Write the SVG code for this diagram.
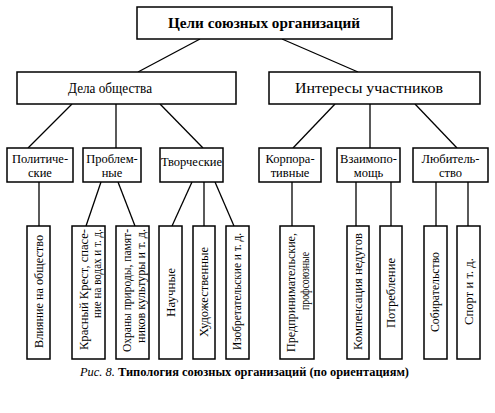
<svg xmlns="http://www.w3.org/2000/svg" width="495" height="413" viewBox="0 0 495 413">
<style>
rect{fill:#fff;stroke:#000;stroke-width:1.5}
line{stroke:#000;stroke-width:1.3}
text{font-family:"Liberation Serif","Times New Roman",serif;fill:#000}
.t0{font-size:15.5px;font-weight:bold}
.t1{font-size:14.5px}
.t2{font-size:12.5px;text-anchor:middle}
.v{font-size:12.5px}
.cap{font-size:12.4px;font-weight:bold}
</style>
<rect width="495" height="413" style="fill:#fff;stroke:none"/>
<g id="connectors">
<line x1="200" y1="39" x2="138" y2="72"/>
<line x1="282" y1="39" x2="358" y2="72"/>
<line x1="72" y1="104" x2="28" y2="148"/>
<line x1="116" y1="104" x2="116" y2="148"/>
<line x1="160" y1="104" x2="203" y2="148"/>
<line x1="335" y1="104" x2="293" y2="148"/>
<line x1="370" y1="104" x2="370" y2="148"/>
<line x1="415" y1="104" x2="457" y2="148"/>
<line x1="39" y1="182" x2="39" y2="226"/>
<line x1="101" y1="182" x2="86" y2="226"/>
<line x1="118" y1="182" x2="135" y2="226"/>
<line x1="192" y1="182" x2="172" y2="226"/>
<line x1="204" y1="182" x2="204" y2="226"/>
<line x1="215" y1="182" x2="234" y2="226"/>
<line x1="292" y1="182" x2="292" y2="226"/>
<line x1="356" y1="182" x2="356" y2="226"/>
<line x1="391" y1="182" x2="391" y2="226"/>
<line x1="436" y1="182" x2="436" y2="226"/>
<line x1="468" y1="182" x2="468" y2="226"/>
</g>
<g id="root"><rect x="137" y="7" width="255" height="32"/><text class="t0" x="168" y="28" textLength="192" lengthAdjust="spacingAndGlyphs">Цели союзных организаций</text></g>
<g id="dela"><rect x="17" y="72" width="219" height="32"/><text class="t1" x="68" y="93" textLength="84" lengthAdjust="spacingAndGlyphs">Дела общества</text></g>
<g id="interesy"><rect x="269" y="72" width="211" height="32"/><text class="t1" x="295" y="93" textLength="148" lengthAdjust="spacingAndGlyphs">Интересы участников</text></g>
<g id="polit"><rect x="7" y="148" width="66" height="34"/><text class="t2" x="40" y="163">Политиче-</text><text class="t2" x="40" y="177">ские</text></g>
<g id="problem"><rect x="83" y="148" width="58" height="34"/><text class="t2" x="112" y="163">Проблем-</text><text class="t2" x="112" y="177">ные</text></g>
<g id="tvorch"><rect x="160" y="148" width="63" height="34"/><text class="t2" x="191.5" y="166">Творческие</text></g>
<g id="korp"><rect x="259" y="148" width="62" height="34"/><text class="t2" x="290" y="163">Корпора-</text><text class="t2" x="290" y="177">тивные</text></g>
<g id="vzaim"><rect x="337" y="148" width="63" height="34"/><text class="t2" x="368.5" y="163">Взаимопо-</text><text class="t2" x="368.5" y="177">мощь</text></g>
<g id="lub"><rect x="413" y="148" width="75" height="34"/><text class="t2" x="450.5" y="163">Любитель-</text><text class="t2" x="450.5" y="177">ство</text></g>
<g id="vliyanie"><rect x="27" y="226" width="23" height="133"/><text class="v" transform="translate(43,348) rotate(-90)" textLength="113" lengthAdjust="spacingAndGlyphs">Влияние на общество</text></g>
<g id="krasny"><rect x="72" y="226" width="33" height="133"/><text class="v" transform="translate(88,350) rotate(-90)" textLength="121" lengthAdjust="spacingAndGlyphs">Красный Крест, спасе-</text><text class="v" transform="translate(101,318) rotate(-90)" textLength="89" lengthAdjust="spacingAndGlyphs">ние на водах и т. д.</text></g>
<g id="ohrana"><rect x="116" y="226" width="33" height="133"/><text class="v" transform="translate(131,352) rotate(-90)" textLength="123" lengthAdjust="spacingAndGlyphs">Охраны природы, памят-</text><text class="v" transform="translate(145,343) rotate(-90)" textLength="114" lengthAdjust="spacingAndGlyphs">ников культуры и т. д.</text></g>
<g id="nauch"><rect x="159" y="226" width="23" height="133"/><text class="v" transform="translate(175,317) rotate(-90)" textLength="49" lengthAdjust="spacingAndGlyphs">Научные</text></g>
<g id="hud"><rect x="193" y="226" width="22" height="133"/><text class="v" transform="translate(208,337) rotate(-90)" textLength="90" lengthAdjust="spacingAndGlyphs">Художественные</text></g>
<g id="izobr"><rect x="226" y="226" width="23" height="133"/><text class="v" transform="translate(241,350) rotate(-90)" textLength="117" lengthAdjust="spacingAndGlyphs">Изобретательские и т. д.</text></g>
<g id="predpr"><rect x="280" y="226" width="34" height="133"/><text class="v" transform="translate(295,352) rotate(-90)" textLength="119" lengthAdjust="spacingAndGlyphs">Предпринимательские,</text><text class="v" transform="translate(309,310) rotate(-90)" textLength="58" lengthAdjust="spacingAndGlyphs">профсоюзные</text></g>
<g id="komp"><rect x="347" y="226" width="22" height="133"/><text class="v" transform="translate(362,350) rotate(-90)" textLength="117" lengthAdjust="spacingAndGlyphs">Компенсация недугов</text></g>
<g id="potr"><rect x="380" y="226" width="22" height="133"/><text class="v" transform="translate(395,328) rotate(-90)" textLength="70" lengthAdjust="spacingAndGlyphs">Потребление</text></g>
<g id="sobir"><rect x="424" y="226" width="23" height="133"/><text class="v" transform="translate(439,332) rotate(-90)" textLength="80" lengthAdjust="spacingAndGlyphs">Собирательство</text></g>
<g id="sport"><rect x="457" y="226" width="23" height="133"/><text class="v" transform="translate(473,325) rotate(-90)" textLength="67" lengthAdjust="spacingAndGlyphs">Спорт и т. д.</text></g>
<text class="cap" x="80" y="376" textLength="329" lengthAdjust="spacingAndGlyphs"><tspan font-style="italic" font-weight="normal">Рис. 8.</tspan> Типология союзных организаций (по ориентациям)</text>
</svg>
